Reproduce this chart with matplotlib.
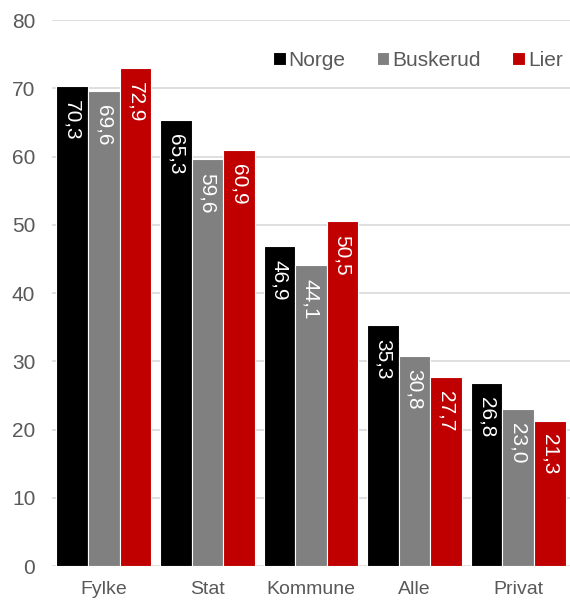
import numpy as np
import matplotlib.pyplot as plt

plt.rcParams['font.family'] = ['Liberation Sans', 'DejaVu Sans']

kategorier = ["Fylke", "Stat", "Kommune", "Alle", "Privat"]
norge = [70.3, 65.3, 46.9, 35.3, 26.8]
buskerud = [69.6, 59.6, 44.1, 30.8, 23.0]
lier = [72.9, 60.9, 50.5, 27.7, 21.3]

serier = ["Norge", "Buskerud", "Lier"]
farger = ["#000000", "#808080", "#c00000"]

fig = plt.figure(figsize=(5.7, 6.01), dpi=100)
ax = fig.add_axes([0.0912, 0.0582, 0.9088, 0.9085])

x = np.arange(len(kategorier))
bredde = 0.305
for i, (navn, verdier) in enumerate(zip(serier, [norge, buskerud, lier])):
    pos = x + (i - 1) * bredde
    ax.bar(pos, verdier, bredde, color=farger[i], edgecolor="white",
           linewidth=0.8, label=navn, zorder=3)
    for px, v in zip(pos, verdier):
        ax.text(px, v - 2.0, f"{v:.1f}".replace(".", ","), rotation=270,
                ha="center", va="top", color="white", fontsize=15, zorder=4)

ax.set_xlim(-0.5, len(kategorier) - 0.5)
ax.set_ylim(0, 80)
ax.set_yticks(range(0, 81, 10))
ax.set_xticks(x)
ax.set_xticklabels(kategorier)
ax.tick_params(axis="both", length=0, labelsize=15, colors="#595959")
ax.tick_params(axis="x", pad=11, labelsize=14)
ax.tick_params(axis="y", pad=12)
ax.grid(axis="y", color="#d9d9d9", linewidth=1.2, zorder=0)
for s in ax.spines.values():
    s.set_visible(False)

ax.legend(loc="upper right", bbox_to_anchor=(1.022, 0.978), ncol=3, frameon=False,
          fontsize=15, handlelength=0.6, handleheight=0.6, handletextpad=0.15,
          columnspacing=1.5, labelcolor="#595959")

fig.savefig("out.png", dpi=100)
